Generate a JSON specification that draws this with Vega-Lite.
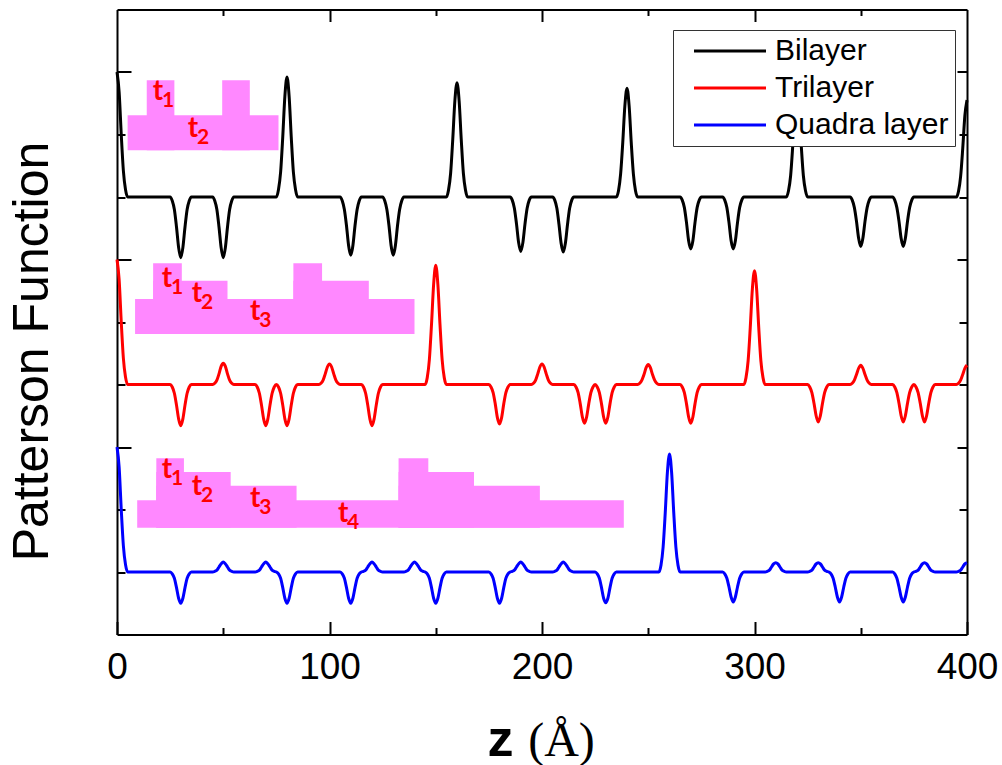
{
"$schema": "https://vega.github.io/schema/vega-lite/v6.json",
"width": 850, "height": 625,
"autosize": {"type": "none"},
"padding": {"left": 117, "top": 9.5, "right": 35, "bottom": 130.5},
"background": "#ffffff",
"config": {
  "view": {"stroke": null},
  "axis": {"grid": false, "domainColor": "#000", "domainWidth": 2, "tickColor": "#000", "tickWidth": 2, "labelFont": "Liberation Sans", "titleFont": "Liberation Sans", "labelColor": "#000", "titleColor": "#000"},
  "legend": {"strokeWidth": 1}
},
"datasets": {
"black": [
{"z":0,"p":9},{"z":1,"p":8.68},{"z":2,"p":8},{"z":3,"p":7.42},{"z":4,"p":7.12},{"z":5,"p":7},
{"z":25,"p":7},{"z":26,"p":6.94},{"z":27,"p":6.8},{"z":28,"p":6.52},{"z":29,"p":6.19},{"z":30,"p":6.03},{"z":31,"p":6.19},{"z":32,"p":6.52},{"z":33,"p":6.8},{"z":34,"p":6.94},{"z":35,"p":7},
{"z":45,"p":7},{"z":46,"p":6.94},{"z":47,"p":6.8},{"z":48,"p":6.52},{"z":49,"p":6.19},{"z":50,"p":6.03},{"z":51,"p":6.19},{"z":52,"p":6.52},{"z":53,"p":6.8},{"z":54,"p":6.94},{"z":55,"p":7},
{"z":75,"p":7},{"z":76,"p":7.12},{"z":77,"p":7.4},{"z":78,"p":7.96},{"z":79,"p":8.61},{"z":80,"p":8.92},{"z":81,"p":8.61},{"z":82,"p":7.96},{"z":83,"p":7.4},{"z":84,"p":7.12},{"z":85,"p":7},
{"z":105,"p":7},{"z":106,"p":6.94},{"z":107,"p":6.8},{"z":108,"p":6.54},{"z":109,"p":6.22},{"z":110,"p":6.07},{"z":111,"p":6.22},{"z":112,"p":6.54},{"z":113,"p":6.8},{"z":114,"p":6.94},{"z":115,"p":7},
{"z":125,"p":7},{"z":126,"p":6.94},{"z":127,"p":6.8},{"z":128,"p":6.54},{"z":129,"p":6.22},{"z":130,"p":6.07},{"z":131,"p":6.22},{"z":132,"p":6.54},{"z":133,"p":6.8},{"z":134,"p":6.94},{"z":135,"p":7},
{"z":155,"p":7},{"z":156,"p":7.11},{"z":157,"p":7.38},{"z":158,"p":7.92},{"z":159,"p":8.54},{"z":160,"p":8.83},{"z":161,"p":8.54},{"z":162,"p":7.92},{"z":163,"p":7.38},{"z":164,"p":7.11},{"z":165,"p":7},
{"z":185,"p":7},{"z":186,"p":6.95},{"z":187,"p":6.82},{"z":188,"p":6.57},{"z":189,"p":6.27},{"z":190,"p":6.13},{"z":191,"p":6.27},{"z":192,"p":6.57},{"z":193,"p":6.82},{"z":194,"p":6.95},{"z":195,"p":7},
{"z":205,"p":7},{"z":206,"p":6.95},{"z":207,"p":6.82},{"z":208,"p":6.56},{"z":209,"p":6.26},{"z":210,"p":6.12},{"z":211,"p":6.26},{"z":212,"p":6.56},{"z":213,"p":6.82},{"z":214,"p":6.95},{"z":215,"p":7},
{"z":235,"p":7},{"z":236,"p":7.1},{"z":237,"p":7.37},{"z":238,"p":7.87},{"z":239,"p":8.46},{"z":240,"p":8.74},{"z":241,"p":8.46},{"z":242,"p":7.87},{"z":243,"p":7.37},{"z":244,"p":7.1},{"z":245,"p":7},
{"z":265,"p":7},{"z":266,"p":6.95},{"z":267,"p":6.83},{"z":268,"p":6.59},{"z":269,"p":6.3},{"z":270,"p":6.17},{"z":271,"p":6.3},{"z":272,"p":6.59},{"z":273,"p":6.83},{"z":274,"p":6.95},{"z":275,"p":7},
{"z":285,"p":7},{"z":286,"p":6.95},{"z":287,"p":6.83},{"z":288,"p":6.59},{"z":289,"p":6.3},{"z":290,"p":6.17},{"z":291,"p":6.3},{"z":292,"p":6.59},{"z":293,"p":6.83},{"z":294,"p":6.95},{"z":295,"p":7},
{"z":315,"p":7},{"z":316,"p":7.1},{"z":317,"p":7.34},{"z":318,"p":7.82},{"z":319,"p":8.38},{"z":320,"p":8.64},{"z":321,"p":8.38},{"z":322,"p":7.82},{"z":323,"p":7.34},{"z":324,"p":7.1},{"z":325,"p":7},
{"z":345,"p":7},{"z":346,"p":6.95},{"z":347,"p":6.83},{"z":348,"p":6.61},{"z":349,"p":6.34},{"z":350,"p":6.21},{"z":351,"p":6.34},{"z":352,"p":6.61},{"z":353,"p":6.83},{"z":354,"p":6.95},{"z":355,"p":7},
{"z":365,"p":7},{"z":366,"p":6.95},{"z":367,"p":6.83},{"z":368,"p":6.61},{"z":369,"p":6.34},{"z":370,"p":6.21},{"z":371,"p":6.34},{"z":372,"p":6.61},{"z":373,"p":6.83},{"z":374,"p":6.95},{"z":375,"p":7},
{"z":395,"p":7},{"z":396,"p":7.09},{"z":397,"p":7.33},{"z":398,"p":7.78},{"z":399,"p":8.3},{"z":400,"p":8.55}
],
"red": [
{"z":0,"p":6},{"z":1,"p":5.68},{"z":2,"p":5},{"z":3,"p":4.42},{"z":4,"p":4.12},{"z":5,"p":4},
{"z":25,"p":4},{"z":26,"p":3.96},{"z":27,"p":3.86},{"z":28,"p":3.67},{"z":29,"p":3.45},{"z":30,"p":3.34},{"z":31,"p":3.45},{"z":32,"p":3.67},{"z":33,"p":3.86},{"z":34,"p":3.96},{"z":35,"p":4},
{"z":45,"p":4},{"z":46,"p":4.02},{"z":47,"p":4.07},{"z":48,"p":4.17},{"z":49,"p":4.29},{"z":50,"p":4.34},{"z":51,"p":4.29},{"z":52,"p":4.17},{"z":53,"p":4.07},{"z":54,"p":4.02},{"z":55,"p":4},
{"z":65,"p":4},{"z":66,"p":3.96},{"z":67,"p":3.86},{"z":68,"p":3.67},{"z":69,"p":3.45},{"z":70,"p":3.34},{"z":71,"p":3.45},{"z":72,"p":3.67},{"z":73,"p":3.86},{"z":74,"p":3.96},{"z":75,"p":4},
{"z":76,"p":3.96},{"z":77,"p":3.86},{"z":78,"p":3.67},{"z":79,"p":3.45},{"z":80,"p":3.34},{"z":81,"p":3.45},{"z":82,"p":3.67},{"z":83,"p":3.86},{"z":84,"p":3.96},{"z":85,"p":4},
{"z":95,"p":4},{"z":96,"p":4.02},{"z":97,"p":4.07},{"z":98,"p":4.17},{"z":99,"p":4.28},{"z":100,"p":4.33},{"z":101,"p":4.28},{"z":102,"p":4.17},{"z":103,"p":4.07},{"z":104,"p":4.02},{"z":105,"p":4},
{"z":115,"p":4},{"z":116,"p":3.96},{"z":117,"p":3.86},{"z":118,"p":3.67},{"z":119,"p":3.45},{"z":120,"p":3.34},{"z":121,"p":3.45},{"z":122,"p":3.67},{"z":123,"p":3.86},{"z":124,"p":3.96},{"z":125,"p":4},
{"z":145,"p":4},{"z":146,"p":4.11},{"z":147,"p":4.4},{"z":148,"p":4.96},{"z":149,"p":5.6},{"z":150,"p":5.91},{"z":151,"p":5.6},{"z":152,"p":4.96},{"z":153,"p":4.4},{"z":154,"p":4.11},{"z":155,"p":4},
{"z":175,"p":4},{"z":176,"p":3.96},{"z":177,"p":3.87},{"z":178,"p":3.69},{"z":179,"p":3.47},{"z":180,"p":3.37},{"z":181,"p":3.47},{"z":182,"p":3.69},{"z":183,"p":3.87},{"z":184,"p":3.96},{"z":185,"p":4},
{"z":195,"p":4},{"z":196,"p":4.02},{"z":197,"p":4.07},{"z":198,"p":4.17},{"z":199,"p":4.28},{"z":200,"p":4.33},{"z":201,"p":4.28},{"z":202,"p":4.17},{"z":203,"p":4.07},{"z":204,"p":4.02},{"z":205,"p":4},
{"z":215,"p":4},{"z":216,"p":3.96},{"z":217,"p":3.87},{"z":218,"p":3.69},{"z":219,"p":3.48},{"z":220,"p":3.38},{"z":221,"p":3.48},{"z":222,"p":3.69},{"z":223,"p":3.87},{"z":224,"p":3.96},{"z":225,"p":4},
{"z":226,"p":3.96},{"z":227,"p":3.87},{"z":228,"p":3.69},{"z":229,"p":3.48},{"z":230,"p":3.38},{"z":231,"p":3.48},{"z":232,"p":3.69},{"z":233,"p":3.87},{"z":234,"p":3.96},{"z":235,"p":4},
{"z":245,"p":4},{"z":246,"p":4.02},{"z":247,"p":4.07},{"z":248,"p":4.16},{"z":249,"p":4.27},{"z":250,"p":4.32},{"z":251,"p":4.27},{"z":252,"p":4.16},{"z":253,"p":4.07},{"z":254,"p":4.02},{"z":255,"p":4},
{"z":265,"p":4},{"z":266,"p":3.96},{"z":267,"p":3.87},{"z":268,"p":3.69},{"z":269,"p":3.48},{"z":270,"p":3.38},{"z":271,"p":3.48},{"z":272,"p":3.69},{"z":273,"p":3.87},{"z":274,"p":3.96},{"z":275,"p":4},
{"z":295,"p":4},{"z":296,"p":4.11},{"z":297,"p":4.38},{"z":298,"p":4.91},{"z":299,"p":5.53},{"z":300,"p":5.82},{"z":301,"p":5.53},{"z":302,"p":4.91},{"z":303,"p":4.38},{"z":304,"p":4.11},{"z":305,"p":4},
{"z":325,"p":4},{"z":326,"p":3.96},{"z":327,"p":3.87},{"z":328,"p":3.7},{"z":329,"p":3.5},{"z":330,"p":3.4},{"z":331,"p":3.5},{"z":332,"p":3.7},{"z":333,"p":3.87},{"z":334,"p":3.96},{"z":335,"p":4},
{"z":345,"p":4},{"z":346,"p":4.02},{"z":347,"p":4.07},{"z":348,"p":4.16},{"z":349,"p":4.26},{"z":350,"p":4.31},{"z":351,"p":4.26},{"z":352,"p":4.16},{"z":353,"p":4.07},{"z":354,"p":4.02},{"z":355,"p":4},
{"z":365,"p":4},{"z":366,"p":3.96},{"z":367,"p":3.87},{"z":368,"p":3.7},{"z":369,"p":3.5},{"z":370,"p":3.4},{"z":371,"p":3.5},{"z":372,"p":3.7},{"z":373,"p":3.87},{"z":374,"p":3.96},{"z":375,"p":4},
{"z":376,"p":3.96},{"z":377,"p":3.87},{"z":378,"p":3.7},{"z":379,"p":3.5},{"z":380,"p":3.4},{"z":381,"p":3.5},{"z":382,"p":3.7},{"z":383,"p":3.87},{"z":384,"p":3.96},{"z":385,"p":4},
{"z":395,"p":4},{"z":396,"p":4.02},{"z":397,"p":4.07},{"z":398,"p":4.16},{"z":399,"p":4.26},{"z":400,"p":4.31}
],
"blue": [
{"z":0,"p":3},{"z":1,"p":2.68},{"z":2,"p":2},{"z":3,"p":1.42},{"z":4,"p":1.12},{"z":5,"p":1},
{"z":25,"p":1},{"z":26,"p":0.97},{"z":27,"p":0.9},{"z":28,"p":0.75},{"z":29,"p":0.58},{"z":30,"p":0.5},{"z":31,"p":0.58},{"z":32,"p":0.75},{"z":33,"p":0.9},{"z":34,"p":0.97},{"z":35,"p":1},
{"z":45,"p":1},{"z":46,"p":1.01},{"z":47,"p":1.03},{"z":48,"p":1.08},{"z":49,"p":1.13},{"z":50,"p":1.16},{"z":51,"p":1.13},{"z":52,"p":1.08},{"z":53,"p":1.03},{"z":54,"p":1.01},{"z":55,"p":1},
{"z":65,"p":1},{"z":66,"p":1.01},{"z":67,"p":1.03},{"z":68,"p":1.08},{"z":69,"p":1.13},{"z":70,"p":1.16},{"z":71,"p":1.13},{"z":72,"p":1.08},{"z":73,"p":1.03},{"z":74,"p":1.01},{"z":75,"p":1},
{"z":76,"p":0.97},{"z":77,"p":0.9},{"z":78,"p":0.75},{"z":79,"p":0.58},{"z":80,"p":0.5},{"z":81,"p":0.58},{"z":82,"p":0.75},{"z":83,"p":0.9},{"z":84,"p":0.97},{"z":85,"p":1},
{"z":105,"p":1},{"z":106,"p":0.97},{"z":107,"p":0.9},{"z":108,"p":0.75},{"z":109,"p":0.58},{"z":110,"p":0.5},{"z":111,"p":0.58},{"z":112,"p":0.75},{"z":113,"p":0.9},{"z":114,"p":0.97},{"z":115,"p":1},
{"z":116,"p":1.01},{"z":117,"p":1.03},{"z":118,"p":1.08},{"z":119,"p":1.13},{"z":120,"p":1.16},{"z":121,"p":1.13},{"z":122,"p":1.08},{"z":123,"p":1.03},{"z":124,"p":1.01},{"z":125,"p":1},
{"z":135,"p":1},{"z":136,"p":1.01},{"z":137,"p":1.03},{"z":138,"p":1.08},{"z":139,"p":1.13},{"z":140,"p":1.16},{"z":141,"p":1.13},{"z":142,"p":1.08},{"z":143,"p":1.03},{"z":144,"p":1.01},{"z":145,"p":1},
{"z":146,"p":0.97},{"z":147,"p":0.9},{"z":148,"p":0.75},{"z":149,"p":0.58},{"z":150,"p":0.5},{"z":151,"p":0.58},{"z":152,"p":0.75},{"z":153,"p":0.9},{"z":154,"p":0.97},{"z":155,"p":1},
{"z":175,"p":1},{"z":176,"p":0.97},{"z":177,"p":0.9},{"z":178,"p":0.75},{"z":179,"p":0.58},{"z":180,"p":0.5},{"z":181,"p":0.58},{"z":182,"p":0.75},{"z":183,"p":0.9},{"z":184,"p":0.97},{"z":185,"p":1},
{"z":186,"p":1.01},{"z":187,"p":1.03},{"z":188,"p":1.08},{"z":189,"p":1.13},{"z":190,"p":1.16},{"z":191,"p":1.13},{"z":192,"p":1.08},{"z":193,"p":1.03},{"z":194,"p":1.01},{"z":195,"p":1},
{"z":205,"p":1},{"z":206,"p":1.01},{"z":207,"p":1.03},{"z":208,"p":1.08},{"z":209,"p":1.13},{"z":210,"p":1.16},{"z":211,"p":1.13},{"z":212,"p":1.08},{"z":213,"p":1.03},{"z":214,"p":1.01},{"z":215,"p":1},
{"z":225,"p":1},{"z":226,"p":0.97},{"z":227,"p":0.9},{"z":228,"p":0.75},{"z":229,"p":0.58},{"z":230,"p":0.51},{"z":231,"p":0.58},{"z":232,"p":0.75},{"z":233,"p":0.9},{"z":234,"p":0.97},{"z":235,"p":1},
{"z":255,"p":1},{"z":256,"p":1.11},{"z":257,"p":1.4},{"z":258,"p":1.95},{"z":259,"p":2.59},{"z":260,"p":2.89},{"z":261,"p":2.59},{"z":262,"p":1.95},{"z":263,"p":1.4},{"z":264,"p":1.11},{"z":265,"p":1},
{"z":285,"p":1},{"z":286,"p":0.97},{"z":287,"p":0.9},{"z":288,"p":0.76},{"z":289,"p":0.6},{"z":290,"p":0.52},{"z":291,"p":0.6},{"z":292,"p":0.76},{"z":293,"p":0.9},{"z":294,"p":0.97},{"z":295,"p":1},
{"z":305,"p":1},{"z":306,"p":1.01},{"z":307,"p":1.03},{"z":308,"p":1.08},{"z":309,"p":1.13},{"z":310,"p":1.15},{"z":311,"p":1.13},{"z":312,"p":1.08},{"z":313,"p":1.03},{"z":314,"p":1.01},{"z":315,"p":1},
{"z":325,"p":1},{"z":326,"p":1.01},{"z":327,"p":1.03},{"z":328,"p":1.08},{"z":329,"p":1.13},{"z":330,"p":1.15},{"z":331,"p":1.13},{"z":332,"p":1.08},{"z":333,"p":1.03},{"z":334,"p":1.01},{"z":335,"p":1},
{"z":336,"p":0.97},{"z":337,"p":0.9},{"z":338,"p":0.76},{"z":339,"p":0.6},{"z":340,"p":0.52},{"z":341,"p":0.6},{"z":342,"p":0.76},{"z":343,"p":0.9},{"z":344,"p":0.97},{"z":345,"p":1},
{"z":365,"p":1},{"z":366,"p":0.97},{"z":367,"p":0.9},{"z":368,"p":0.76},{"z":369,"p":0.6},{"z":370,"p":0.52},{"z":371,"p":0.6},{"z":372,"p":0.76},{"z":373,"p":0.9},{"z":374,"p":0.97},{"z":375,"p":1},
{"z":376,"p":1.01},{"z":377,"p":1.03},{"z":378,"p":1.08},{"z":379,"p":1.13},{"z":380,"p":1.15},{"z":381,"p":1.13},{"z":382,"p":1.08},{"z":383,"p":1.03},{"z":384,"p":1.01},{"z":385,"p":1},
{"z":395,"p":1},{"z":396,"p":1.01},{"z":397,"p":1.03},{"z":398,"p":1.08},{"z":399,"p":1.13},{"z":400,"p":1.15}
],
"boxes": [
{"x":5,"x2":76,"y":7.75,"y2":8.31},
{"x":14,"x2":27,"y":7.75,"y2":8.87},
{"x":49.5,"x2":62.5,"y":7.75,"y2":8.87},
{"x":8.5,"x2":140,"y":4.81,"y2":5.37},
{"x":17,"x2":52,"y":4.81,"y2":5.66},
{"x":17,"x2":30.5,"y":4.81,"y2":5.94},
{"x":83,"x2":118.5,"y":4.81,"y2":5.66},
{"x":83,"x2":96.5,"y":4.81,"y2":5.94},
{"x":9.5,"x2":238.5,"y":1.71,"y2":2.15},
{"x":18.5,"x2":84.5,"y":1.71,"y2":2.38},
{"x":18.5,"x2":53.5,"y":1.71,"y2":2.6},
{"x":18.5,"x2":31.5,"y":1.71,"y2":2.82},
{"x":132.5,"x2":199,"y":1.71,"y2":2.38},
{"x":132.5,"x2":168,"y":1.71,"y2":2.6},
{"x":132.5,"x2":146.5,"y":1.71,"y2":2.82}
],
"labels": [
{"x":19.3,"y":8.55,"t":"t","n":"1"},
{"x":35.8,"y":7.96,"t":"t","n":"2"},
{"x":23.5,"y":5.56,"t":"t","n":"1"},
{"x":37.6,"y":5.32,"t":"t","n":"2"},
{"x":65,"y":5.03,"t":"t","n":"3"},
{"x":23.5,"y":2.5,"t":"t","n":"1"},
{"x":37.6,"y":2.23,"t":"t","n":"2"},
{"x":65,"y":2.04,"t":"t","n":"3"},
{"x":106.4,"y":1.8,"t":"t","n":"4"}
]
},
"resolve": {"axis": {"x": "independent", "y": "independent"}},
"layer": [
{
  "data": {"name": "boxes"},
  "mark": {"type": "rect", "color": "#ff88ff"},
  "encoding": {
    "x": {"field": "x", "type": "quantitative", "scale": {"domain": [0, 400], "nice": false, "zero": false},
      "axis": {"orient": "top", "values": [50, 150, 250, 350], "tickSize": -6, "labels": false, "domain": false, "title": null}},
    "x2": {"field": "x2"},
    "y": {"field": "y", "type": "quantitative", "scale": {"domain": [0, 10], "nice": false, "zero": false},
      "axis": {"orient": "right", "values": [1, 2, 4, 5, 7, 8], "tickSize": -8, "labels": false, "domain": false, "title": null}},
    "y2": {"field": "y2"}
  }
},
{
  "data": {"name": "black"},
  "mark": {"type": "line", "strokeWidth": 3, "interpolate": "monotone"},
  "encoding": {
    "x": {"field": "z", "type": "quantitative", "scale": {"domain": [0, 400], "nice": false, "zero": false},
      "axis": {"orient": "bottom", "values": [0, 100, 200, 300, 400], "tickSize": -13, "labelFontSize": 37, "labelPadding": 27.5, "labelFlush": false, "labelOverlap": false,
        "title": "z", "titleFontSize": 52, "titleFontWeight": "bold", "titleX": 383, "titleY": 120.5, "titleAlign": "center", "titleBaseline": "alphabetic"}},
    "y": {"field": "p", "type": "quantitative", "scale": {"domain": [0, 10], "nice": false, "zero": false},
      "axis": {"orient": "left", "values": [3, 6, 9], "tickSize": -14, "labels": false,
        "title": "Patterson Function", "titleFontSize": 50, "titleFontWeight": "normal", "titleAngle": 270, "titleX": -70, "titleY": 341.5, "titleAlign": "center", "titleBaseline": "alphabetic"}},
    "color": {"datum": "Bilayer", "type": "nominal",
      "scale": {"domain": ["Bilayer", "Trilayer", "Quadra layer"], "range": ["#000000", "#ff0000", "#0000ff"]},
      "legend": {"title": null, "orient": "none", "legendX": 556, "legendY": 20.5, "padding": 6, "strokeColor": "#333333", "fillColor": "#ffffff",
        "symbolType": "M0,0H12", "symbolSize": 144, "symbolStrokeWidth": 3, "labelFontSize": 30, "labelFont": "Liberation Sans", "labelColor": "#000000", "labelOffset": 66, "rowPadding": 7, "labelLimit": 400}}
  }
},
{
  "data": {"name": "red"},
  "mark": {"type": "line", "strokeWidth": 3, "interpolate": "monotone"},
  "encoding": {
    "x": {"field": "z", "type": "quantitative", "scale": {"domain": [0, 400], "nice": false, "zero": false},
      "axis": {"orient": "bottom", "values": [50, 150, 250, 350], "tickSize": -7, "labels": false, "domain": false,
        "title": "(Å)", "titleFont": "Liberation Serif", "titleFontSize": 48, "titleFontWeight": "normal", "titleX": 444, "titleY": 120.5, "titleAlign": "center", "titleBaseline": "alphabetic"}},
    "y": {"field": "p", "type": "quantitative", "scale": {"domain": [0, 10], "nice": false, "zero": false},
      "axis": {"orient": "left", "values": [1, 2, 4, 5, 7, 8], "tickSize": -8, "labels": false, "domain": false, "title": null}},
    "color": {"datum": "Trilayer", "type": "nominal"}
  }
},
{
  "data": {"name": "blue"},
  "mark": {"type": "line", "strokeWidth": 3, "interpolate": "monotone"},
  "encoding": {
    "x": {"field": "z", "type": "quantitative", "scale": {"domain": [0, 400], "nice": false, "zero": false},
      "axis": {"orient": "top", "values": [100, 200, 300], "tickSize": -12, "labels": false, "title": null}},
    "y": {"field": "p", "type": "quantitative", "scale": {"domain": [0, 10], "nice": false, "zero": false},
      "axis": {"orient": "right", "values": [3, 6, 9], "tickSize": -10, "labels": false, "title": null}},
    "color": {"datum": "Quadra layer", "type": "nominal"}
  }
},
{
  "data": {"name": "labels"},
  "mark": {"type": "text", "font": "Lato", "fontWeight": "bold", "fontSize": 28, "color": "#ff0000", "align": "center", "baseline": "alphabetic"},
  "encoding": {
    "x": {"field": "x", "type": "quantitative", "scale": {"domain": [0, 400], "nice": false, "zero": false}, "axis": null},
    "y": {"field": "y", "type": "quantitative", "scale": {"domain": [0, 10], "nice": false, "zero": false}, "axis": null},
    "text": {"field": "t"}
  }
},
{
  "data": {"name": "labels"},
  "mark": {"type": "text", "font": "Lato", "fontWeight": "bold", "fontSize": 21, "color": "#ff0000", "align": "left", "baseline": "alphabetic", "dx": 4, "dy": 7},
  "encoding": {
    "x": {"field": "x", "type": "quantitative", "scale": {"domain": [0, 400], "nice": false, "zero": false}, "axis": null},
    "y": {"field": "y", "type": "quantitative", "scale": {"domain": [0, 10], "nice": false, "zero": false}, "axis": null},
    "text": {"field": "n"}
  }
}
]
}
